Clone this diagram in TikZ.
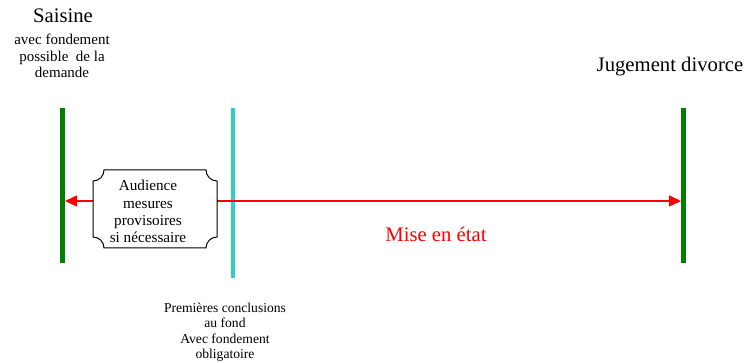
\documentclass[tikz,border=0pt]{standalone}
\usepackage{fontspec}
\setmainfont{Liberation Serif}
\usetikzlibrary{arrows.meta}
\definecolor{dgreen}{RGB}{0,128,0}
\definecolor{turq}{RGB}{51,204,204}
\definecolor{pred}{RGB}{255,0,0}
\tikzset{
  greenbar/.style={draw=dgreen, line width=5pt},
  turqbar/.style={draw=turq, line width=4pt},
  redarrow/.style={draw=pred, line width=1.5pt, {Triangle[length=12pt,width=11pt]}-{Triangle[length=12pt,width=11pt]}},
  bigtxt/.style={inner sep=0pt, anchor=base, font=\fontsize{20.7}{24}\selectfont},
  midtxt/.style={inner sep=0pt, anchor=base, align=center, font=\fontsize{15}{16.5}\selectfont},
  boxtxt/.style={inner sep=0pt, anchor=base, align=center, font=\fontsize{15.2}{17.3}\selectfont},
  smalltxt/.style={inner sep=0pt, anchor=base, align=center, font=\fontsize{13.6}{15.2}\selectfont},
  scallop/.style={draw=black, line width=1pt, fill=white}
}
\begin{document}
\begin{tikzpicture}[x=1pt,y=-1pt]
\useasboundingbox (0,0) rectangle (748,363);
% vertical bars
\coordinate (g1t) at (62.5,107.7);
\coordinate (g1b) at (62.5,262.7);
\coordinate (ct) at (233,107.7);
\coordinate (cb) at (233,278.3);
\coordinate (g2t) at (683.5,107.7);
\coordinate (g2b) at (683.5,262.7);
\draw[greenbar] (g1t) -- (g1b);
\draw[turqbar] (ct) -- (cb);
\draw[greenbar] (g2t) -- (g2b);
% red double arrow
\coordinate (la) at (65,201);
\coordinate (ra) at (681,201);
\draw[redarrow] (la) -- (ra);
% scalloped box
\def\r{11}
\path[scallop] (93+\r,170) -- (217-\r,170)
  arc[start angle=180, end angle=90, radius=\r] -- (217,248-\r)
  arc[start angle=270, end angle=180, radius=\r] -- (93+\r,248)
  arc[start angle=360, end angle=270, radius=\r] -- (93,170+\r)
  arc[start angle=90, end angle=0, radius=\r] -- cycle;
\node[boxtxt] (aud) at (148,242.7) {Audience\\mesures\\provisoires\\si nécessaire};
% texts
\node[bigtxt] (sai) at (63,23) {Saisine};
\node[midtxt] (saisub) at (62,78) {avec fondement\\possible~ de la\\demande};
\node[bigtxt] (jug) at (670,71.7) {Jugement divorce};
\node[bigtxt, text=pred] (mise) at (436,241.7) {Mise en état};
\node[smalltxt] (prem) at (225,358.3) {Premières conclusions\\au fond\\Avec fondement\\obligatoire};
\end{tikzpicture}
\end{document}
